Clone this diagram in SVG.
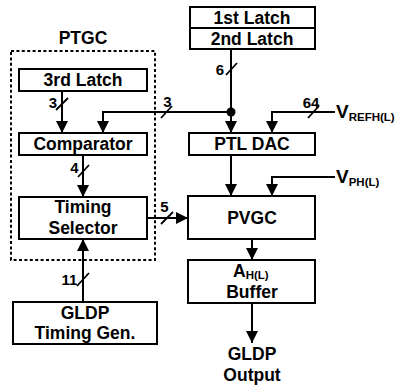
<svg xmlns="http://www.w3.org/2000/svg" width="399" height="388" viewBox="0 0 399 388">
  <style>
    .box { fill: #fff; stroke: #000; stroke-width: 2; }
    .frame { fill: none; stroke: #000; stroke-width: 2; stroke-dasharray: 3 2.4; }
    .wire { fill: none; stroke: #000; stroke-width: 2; }
    .arrow { marker-end: url(#head); }
    .slash { stroke: #000; stroke-width: 1.8; }
    text { font-family: "Liberation Sans", Arial, sans-serif; font-weight: bold; fill: #000; }
    .lbl { font-size: 17.5px; text-anchor: middle; }
    .num { font-size: 15px; text-anchor: middle; }
    .v { font-size: 19px; }
    .sub { font-size: 11.5px; }
  </style>
  <defs>
    <marker id="head" viewBox="0 0 12 12" refX="12" refY="6" markerWidth="12" markerHeight="12" markerUnits="userSpaceOnUse" orient="auto">
      <path d="M0,0 L12,6 L0,12 z" fill="#000"/>
    </marker>
  </defs>

  <!-- PTGC block boundary -->
  <g id="ptgc">
    <rect class="frame" x="11" y="51" width="144" height="209"/>
    <text class="lbl" x="83" y="44">PTGC</text>
  </g>

  <g id="latch12">
    <rect class="box" x="190" y="7" width="125" height="42"/>
    <line class="wire" x1="190" y1="28" x2="315" y2="28"/>
    <text class="lbl" x="252" y="24">1st Latch</text>
    <text class="lbl" x="252" y="45">2nd Latch</text>
  </g>

  <g id="latch3">
    <rect class="box" x="19" y="69" width="128" height="22"/>
    <text class="lbl" x="83" y="86">3rd Latch</text>
  </g>

  <g id="comparator">
    <rect class="box" x="19" y="133" width="128" height="22"/>
    <text class="lbl" x="83" y="150">Comparator</text>
  </g>

  <g id="timing-selector">
    <rect class="box" x="19" y="197" width="128" height="42"/>
    <text class="lbl" x="83" y="213">Timing</text>
    <text class="lbl" x="83" y="234">Selector</text>
  </g>

  <g id="timing-gen">
    <rect class="box" x="13" y="302" width="144" height="42"/>
    <text class="lbl" x="85" y="319">GLDP</text>
    <text class="lbl" x="85" y="339">Timing Gen.</text>
  </g>

  <g id="ptl-dac">
    <rect class="box" x="189" y="133" width="126" height="22"/>
    <text class="lbl" x="252" y="150">PTL DAC</text>
  </g>

  <g id="pvgc">
    <rect class="box" x="188" y="196" width="127" height="43"/>
    <text class="lbl" x="252" y="224">PVGC</text>
  </g>

  <g id="buffer">
    <rect class="box" x="188" y="260" width="127" height="43"/>
    <text x="233" y="277"><tspan style="font-size:17.5px">A</tspan><tspan class="sub" dy="2">H(L)</tspan></text>
    <text class="lbl" x="252" y="298">Buffer</text>
  </g>

  <g id="output">
    <text class="lbl" x="252" y="360">GLDP</text>
    <text class="lbl" x="252" y="381">Output</text>
  </g>

  <g id="vrefh">
    <text x="336" y="118"><tspan class="v">V</tspan><tspan class="sub" dy="3">REFH(L)</tspan></text>
  </g>

  <g id="vph">
    <text x="336" y="183"><tspan class="v">V</tspan><tspan class="sub" dy="3">PH(L)</tspan></text>
  </g>

  <!-- connectors -->
  <g id="connectors">
    <path class="wire arrow" d="M62,91 V133"/>
    <path class="wire arrow" d="M231,49 V133"/>
    <path class="wire arrow" d="M231,112 H103 V133"/>
    <path class="wire arrow" d="M335,112 H272 V133"/>
    <path class="wire arrow" d="M83,155 V197"/>
    <path class="wire arrow" d="M147,218 H188"/>
    <path class="wire arrow" d="M83,302 V239"/>
    <path class="wire arrow" d="M231,155 V196"/>
    <path class="wire arrow" d="M335,177 H272 V196"/>
    <path class="wire arrow" d="M252,239 V260"/>
    <path class="wire arrow" d="M252,303 V343"/>
    <circle cx="231" cy="112" r="4.5" fill="#000"/>

    <!-- bus width marks -->
    <line class="slash" x1="56" y1="110" x2="68" y2="98"/>
    <line class="slash" x1="161" y1="118" x2="172" y2="106"/>
    <line class="slash" x1="226" y1="75" x2="237" y2="63"/>
    <line class="slash" x1="78" y1="177" x2="89" y2="165"/>
    <line class="slash" x1="308" y1="118" x2="319" y2="106"/>
    <line class="slash" x1="161" y1="224" x2="173" y2="212"/>
    <line class="slash" x1="77" y1="286" x2="89" y2="273"/>

    <text class="num" x="53" y="108">3</text>
    <text class="num" x="167.5" y="107">3</text>
    <text class="num" x="220" y="75">6</text>
    <text class="num" x="74.5" y="173">4</text>
    <text class="num" x="311" y="108">64</text>
    <text class="num" x="164.5" y="212">5</text>
    <text class="num" x="69.5" y="285">11</text>
  </g>
</svg>
